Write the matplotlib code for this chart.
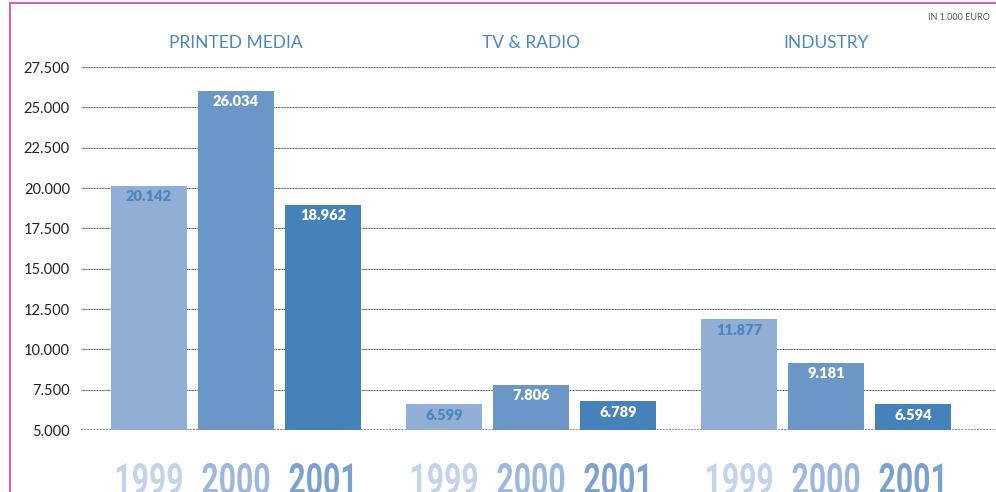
import matplotlib.pyplot as plt
from matplotlib.lines import Line2D
from matplotlib.patheffects import AbstractPathEffect
from matplotlib.transforms import Affine2D

# Data from the chart (in 1.000 euro)
segments = ["PRINTED MEDIA", "TV & RADIO", "INDUSTRY"]
years = ["1999", "2000", "2001"]
values_1999 = [20142, 6599, 11877]
values_2000 = [26034, 7806, 9181]
values_2001 = [18962, 6789, 6594]
yticks = [5000, 7500, 10000, 12500, 15000, 17500, 20000, 22500, 25000, 27500]

bar_colors = ["#91afd5", "#6b97c7", "#4482b9"]
year_colors = ["#c3d3ea", "#9db8dc", "#7ba2cf"]
label_colors = ["#4a86c0", "white", "white"]
title_blue = "#4a86c0"

base = 5000
width = 76 / 295
step = 87 / 295


class Tall(AbstractPathEffect):
    """Stretch glyphs upward from the baseline to get a condensed look."""
    def __init__(self, sy):
        super().__init__()
        self.sy = sy

    def draw_path(self, renderer, gc, tpath, affine, rgbFace=None):
        renderer.draw_path(gc, tpath, Affine2D().scale(1, self.sy) + affine, rgbFace)


fig = plt.figure(figsize=(9.96, 4.92), dpi=100)
ax = fig.add_axes([81 / 996, 62 / 492, 1 - 81 / 996, (430 - 26.7) / 492])
ax.set_xlim(-0.525, 2.576)
ax.set_ylim(base, 30000)

# Gridlines
for t in yticks:
    lw = 1.4 if t == base else 0.7
    col = "#888888" if t == base else "#444444"
    ax.axhline(t, color=col, lw=lw, ls=(0, (1, 0.6)), zorder=1)

series = [values_1999, values_2000, values_2001]
for i, vals in enumerate(series):
    xs = [g + (i - 1) * step for g in range(len(segments))]
    heights = [v - base for v in vals]
    ax.bar(xs, heights, width=width, bottom=base, color=bar_colors[i], zorder=2)
    for x, v in zip(xs, vals):
        label = f"{v:,}".replace(",", ".")
        ax.text(x, v - 680, label, ha="center", va="center", fontsize=10.5,
                fontweight="heavy", color=label_colors[i], family="Lato", zorder=3)
        ax.text(x, 1033, years[i], ha="center", va="baseline", fontsize=21.7,
                fontweight="bold", color=year_colors[i], family="Roboto",
                clip_on=False, path_effects=[Tall(1.43)])

for g, name in enumerate(segments):
    ax.text(g, 29000, name, ha="center", va="center", fontsize=12.5, color=title_blue,
            family="Lato")

ax.set_yticks(yticks)
ax.set_yticklabels([f"{t:,}".replace(",", ".") for t in yticks], family="Lato",
                   fontsize=10.5, color="#222222")
ax.tick_params(axis="y", length=0, pad=8)
ax.set_xticks([])
for s in ax.spines.values():
    s.set_visible(False)

fig.text(990 / 996, 1 - 18 / 492, "IN 1.000 EURO", ha="right", va="center",
         fontsize=6.5, color="#555555", family="Lato")

# Pink frame
fig.add_artist(Line2D([10 / 996, 10 / 996], [0, 1 - 3 / 492], color="#d060b0", lw=1.5,
                      transform=fig.transFigure))
fig.add_artist(Line2D([10 / 996, 1], [1 - 3 / 492, 1 - 3 / 492], color="#d060b0", lw=1.5,
                      transform=fig.transFigure))

fig.savefig("out.png", dpi=100)
